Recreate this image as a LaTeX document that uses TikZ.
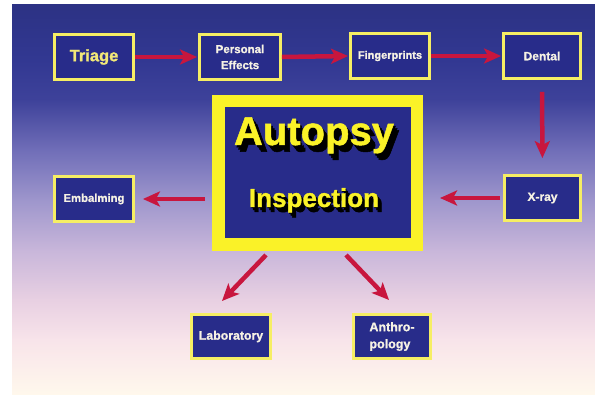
\documentclass[tikz,border=0pt]{standalone}
\usepackage{fontspec}
\setmainfont{Liberation Sans}[BoldFeatures={FakeBold=1.2}]
\usetikzlibrary{arrows.meta}
\definecolor{boxblue}{RGB}{40,44,138}
\definecolor{boxyel}{RGB}{246,238,100}
\definecolor{arrred}{RGB}{200,22,62}
\definecolor{txtw}{RGB}{246,242,228}
\definecolor{triyel}{RGB}{242,232,120}
\definecolor{ayel}{RGB}{250,242,40}
\definecolor{bgA}{RGB}{44,50,132}
\definecolor{bgB}{RGB}{50,56,146}
\definecolor{bgC}{RGB}{62,66,154}
\definecolor{bgD}{RGB}{112,110,184}
\definecolor{bgE}{RGB}{158,150,204}
\definecolor{bgF}{RGB}{200,182,218}
\definecolor{bgG}{RGB}{232,208,226}
\definecolor{bgH}{RGB}{248,228,234}
\definecolor{bgI}{RGB}{255,248,236}
\tikzset{
  box/.style={draw=boxyel, fill=boxblue, line width=2.8pt, inner sep=0pt,
    text=txtw, font=\bfseries\fontsize{12}{16}\selectfont, align=center},
  arr/.style={draw=arrred, line width=4.5pt,
    -{Stealth[length=17pt,width=15pt,inset=4pt]}},
  bigtxt/.style={anchor=base, inner sep=0pt, font=\bfseries\fontsize{40}{42}\selectfont},
  midtxt/.style={anchor=base, inner sep=0pt, font=\bfseries\fontsize{26}{28}\selectfont}
}
\begin{document}
\begin{tikzpicture}[x=1pt,y=-1pt]
\useasboundingbox (0,0) rectangle (595,395);
\fill[white] (0,0) rectangle (595,395);
% background gradient
\shade[top color=bgA, bottom color=bgB] (12,5) rectangle (595,60.5);
\shade[top color=bgB, bottom color=bgC] (12,60) rectangle (595,100.5);
\shade[top color=bgC, bottom color=bgD] (12,100) rectangle (595,150.5);
\shade[top color=bgD, bottom color=bgE] (12,150) rectangle (595,200.5);
\shade[top color=bgE, bottom color=bgF] (12,200) rectangle (595,250.5);
\shade[top color=bgF, bottom color=bgG] (12,250) rectangle (595,300.5);
\shade[top color=bgG, bottom color=bgH] (12,300) rectangle (595,340.5);
\shade[top color=bgH, bottom color=bgI] (12,340) rectangle (595,395);

% boxes
\node[box, minimum width=79, minimum height=45, text=triyel,
  font=\bfseries\fontsize{16.5}{18}\selectfont] (tri) at (94,57) {Triage};
\node[box, minimum width=81, minimum height=45,
  font=\bfseries\fontsize{11.5}{16}\selectfont] (pe) at (240,57) {Personal\\Effects};
\node[box, minimum width=79, minimum height=45,
  font=\bfseries\fontsize{11}{14}\selectfont] (fp) at (390,56) {Fingerprints};
\node[box, minimum width=77, minimum height=45] (den) at (542,56) {Dental};
\node[box, minimum width=79, minimum height=45,
  font=\bfseries\fontsize{11.3}{14}\selectfont] (emb) at (94,199) {Embalming};
\node[box, minimum width=76, minimum height=45] (xr) at (542.5,198) {X-ray};
\node[box, minimum width=79, minimum height=44,
  font=\bfseries\fontsize{12.3}{14}\selectfont] (lab) at (231,336.5) {Laboratory};
\node[box, minimum width=77, minimum height=44, align=left,
  font=\bfseries\fontsize{12.5}{17}\selectfont] (ant) at (392,336.5) {Anthro-\\pology};

% central box
\node[draw=ayel, fill=boxblue, line width=12.5pt, minimum width=198.5,
  minimum height=143.5, inner sep=0pt] (aut) at (317.5,173) {};
\foreach \d in {6,4,2}
  \node[bigtxt, text=black] (as\d) at (314+0.85*\d,145+1.1*\d) {Autopsy};
\node[bigtxt, text=ayel] (at) at (314,145) {Autopsy};
\foreach \d in {5,3,1}
  \node[midtxt, text=black] (is\d) at (314+0.8*\d,207+1.0*\d) {Inspection};
\node[midtxt, text=ayel] (it) at (314,207) {Inspection};

% connectors
\draw[arr, shorten >=1pt] (tri.east) -- (pe.west);
\draw[arr, shorten >=1pt] (pe.east) -- (fp.west);
\draw[arr, shorten >=1pt] (fp.east) -- (den.west);
\draw[arr, shorten <=12pt, shorten >=16pt] (den.south) -- (xr.north);
\draw[arr, shorten <=3pt, shorten >=17pt] (xr.west) -- (aut.east |- xr.west);
\draw[arr, shorten <=7pt, shorten >=8pt] (aut.west |- emb.east) -- (emb.east);
\coordinate (l1) at (266,255);
\coordinate (l2) at (222,301);
\coordinate (r1) at (346,255);
\coordinate (r2) at (389,300);
\draw[arr] (l1) -- (l2);
\draw[arr] (r1) -- (r2);
\end{tikzpicture}
\end{document}
